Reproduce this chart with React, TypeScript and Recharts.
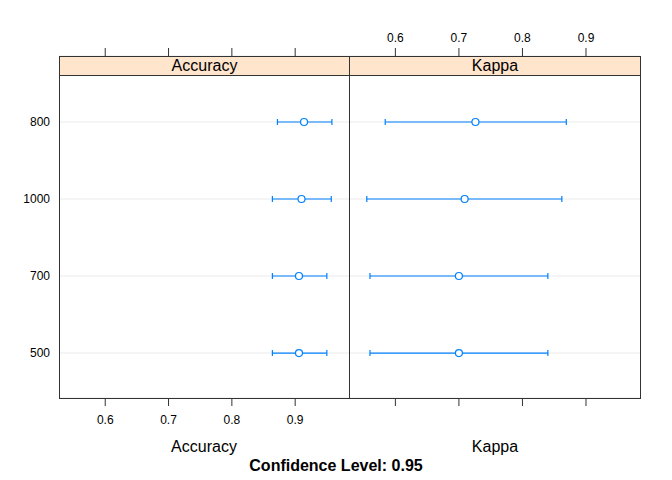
import { ScatterChart, Scatter, XAxis, YAxis, CartesianGrid, ErrorBar } from 'recharts';

// resamples, top to bottom as drawn
const models = ['800', '1000', '700', '500'];

const accuracyMid = [0.914, 0.910, 0.906, 0.906];
const accuracyLow = [0.872, 0.864, 0.864, 0.864];
const accuracyHigh = [0.958, 0.957, 0.950, 0.950];

const kappaMid = [0.726, 0.709, 0.700, 0.700];
const kappaLow = [0.584, 0.555, 0.560, 0.560];
const kappaHigh = [0.869, 0.862, 0.840, 0.840];

const xTicks = [0.6, 0.7, 0.8, 0.9];
const xDomain = [0.527, 0.985];
const yDomain = [0.416, 4.857];
const yTicks = [1, 2, 3, 4];

const FONT = '"Liberation Sans", Arial, Helvetica, sans-serif';
const BLUE = '#0080ff';
const AXIS = '#333333';

const toRows = (mid: number[], low: number[], high: number[]) =>
  mid.map((m, i) => ({
    x: m,
    y: models.length - i,
    err: [m - low[i], high[i] - m],
  }));

const accuracyRows = toRows(accuracyMid, accuracyLow, accuracyHigh);
const kappaRows = toRows(kappaMid, kappaLow, kappaHigh);

const rowLabel = (v: number) => models[models.length - v] ?? '';

const Dot = (props: any) => (
  <circle cx={props.cx} cy={props.cy} r={3.5} fill="white" stroke={BLUE} strokeWidth={1.2} />
);

const tickText = { fill: '#000', fontSize: 12, fontFamily: FONT };
const noLabel = () => <g />;

interface PanelProps {
  rows: { x: number; y: number; err: number[] }[];
  left: number;
  right: number;
  bottomLabels: boolean;
  showY: boolean;
}

function Panel({ rows, left, right, bottomLabels, showY }: PanelProps) {
  return (
    <ScatterChart
      width={672}
      height={480}
      margin={{ top: 26, bottom: 52, left: showY ? 0 : left, right: 672 - right }}
      style={{ position: 'absolute', left: 0, top: 0 }}
    >
      <CartesianGrid vertical={false} stroke="#ebebeb" yAxisId="y" xAxisId="b" />
      <XAxis
        xAxisId="b"
        type="number"
        dataKey="x"
        orientation="bottom"
        domain={xDomain}
        ticks={xTicks}
        allowDataOverflow
        height={30}
        axisLine={false}
        tickLine={{ stroke: AXIS }}
        tickSize={8}
        tickMargin={9}
        tick={bottomLabels ? tickText : noLabel}
      />
      <XAxis
        xAxisId="t"
        type="number"
        dataKey="x"
        orientation="top"
        domain={xDomain}
        ticks={xTicks}
        allowDataOverflow
        height={30}
        axisLine={false}
        tickLine={{ stroke: AXIS }}
        tickSize={8}
        tickMargin={6}
        tick={!bottomLabels ? tickText : noLabel}
      />
      <YAxis
        yAxisId="y"
        type="number"
        dataKey="y"
        domain={yDomain}
        ticks={yTicks}
        allowDataOverflow
        width={showY ? left : 0}
        hide={!showY}
        axisLine={false}
        tickLine={false}
        tickSize={0}
        tickMargin={9}
        tickFormatter={rowLabel}
        tick={tickText}
      />
      <Scatter data={rows} xAxisId="b" yAxisId="y" shape={<Dot />} isAnimationActive={false}>
        <ErrorBar dataKey="err" direction="x" stroke={BLUE} strokeWidth={1.2} width={3} isAnimationActive={false} />
      </Scatter>
      {/* invisible twin so the top axis has a series to scale from */}
      <Scatter data={rows} xAxisId="t" yAxisId="y" shape={noLabel} isAnimationActive={false} />
    </ScatterChart>
  );
}

const stripStyle = (left: number, width: number): React.CSSProperties => ({
  position: 'absolute',
  left,
  top: 56,
  width,
  height: 20,
  boxSizing: 'border-box',
  background: '#ffe5cc',
  border: `1px solid ${AXIS}`,
  fontFamily: FONT,
  fontSize: 16,
  lineHeight: '18px',
  textAlign: 'center',
  color: '#000',
});

const frameStyle = (left: number, width: number): React.CSSProperties => ({
  position: 'absolute',
  left,
  top: 56,
  width,
  height: 343,
  boxSizing: 'border-box',
  border: `1px solid ${AXIS}`,
  pointerEvents: 'none',
});

const textStyle = (cx: number, top: number, bold = false): React.CSSProperties => ({
  position: 'absolute',
  left: cx - 150,
  width: 300,
  top,
  textAlign: 'center',
  fontFamily: FONT,
  fontSize: 16,
  fontWeight: bold ? 'bold' : 'normal',
  color: '#000',
});

export default function App() {
  return (
    <div style={{ position: 'absolute', left: 0, top: 0, width: 672, height: 480, background: '#fff' }}>
      <Panel rows={accuracyRows} left={59} right={349} bottomLabels showY />
      <Panel rows={kappaRows} left={349} right={640} bottomLabels={false} showY={false} />
      <div style={frameStyle(59, 291)} />
      <div style={frameStyle(349, 292)} />
      <div style={stripStyle(59, 291)}>Accuracy</div>
      <div style={stripStyle(349, 292)}>Kappa</div>
      <div style={textStyle(204, 438)}>Accuracy</div>
      <div style={textStyle(495, 438)}>Kappa</div>
      <div style={textStyle(336, 457, true)}>Confidence Level: 0.95</div>
    </div>
  );
}
